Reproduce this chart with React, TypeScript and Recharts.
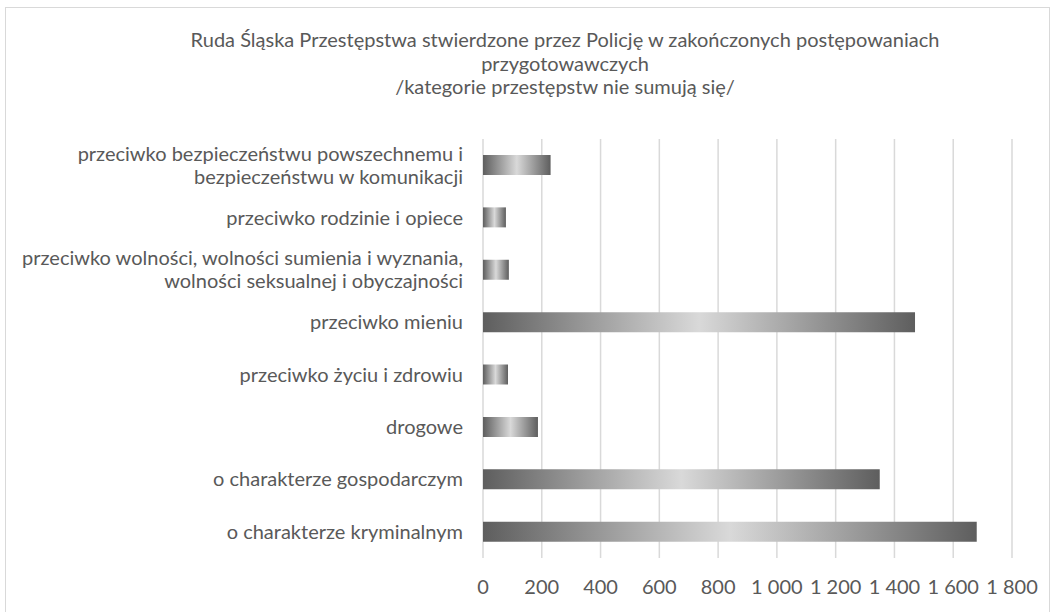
import { Bar, BarChart, CartesianGrid, XAxis, YAxis } from 'recharts';

const categories = [
  'przeciwko bezpieczeństwu powszechnemu i\nbezpieczeństwu w komunikacji',
  'przeciwko rodzinie i opiece',
  'przeciwko wolności, wolności sumienia i wyznania,\nwolności seksualnej i obyczajności',
  'przeciwko mieniu',
  'przeciwko życiu i zdrowiu',
  'drogowe',
  'o charakterze gospodarczym',
  'o charakterze kryminalnym',
];

const counts = [230, 78, 88, 1470, 85, 187, 1350, 1680];

const xTicks = [0, 200, 400, 600, 800, 1000, 1200, 1400, 1600, 1800];

const titleLines = [
  'Ruda Śląska Przestępstwa stwierdzone przez Policję w zakończonych postępowaniach',
  'przygotowawczych',
  '/kategorie przestępstw nie sumują się/',
];

const data = categories.map((name, i) => ({ name, value: counts[i] }));

const FONT = 'Lato, "Open Sans", sans-serif';
const TEXT = '#595959';
const FS = 20;

const fmt = (n: number) =>
  n >= 1000 ? `${Math.floor(n / 1000)} ${String(n % 1000).padStart(3, '0')}` : String(n);

function CategoryTick(props: any) {
  const { x, y, payload } = props;
  const lines = String(payload.value).split('\n');
  const lh = 23;
  return (
    <text x={x} y={y} textAnchor="end" fill={TEXT} fontSize={FS} fontFamily={FONT}>
      {lines.map((line, i) => (
        <tspan key={i} x={x} dy={i === 0 ? -((lines.length - 1) / 2) * lh + 7 : lh}>
          {line}
        </tspan>
      ))}
    </text>
  );
}

export default function App() {
  return (
    <div
      style={{
        position: 'absolute',
        left: 5,
        top: 7,
        width: 1045,
        height: 620,
        border: '1px solid #d9d9d9',
        background: '#fff',
        boxSizing: 'border-box',
      }}
    >
      <div
        style={{
          position: 'absolute',
          left: 0,
          top: 20,
          width: 1118,
          textAlign: 'center',
          fontFamily: FONT,
          fontSize: FS,
          lineHeight: '23.5px',
          color: TEXT,
        }}
      >
        {titleLines.map((t) => (
          <div key={t}>{t}</div>
        ))}
      </div>
      <BarChart
        width={1045}
        height={604}
        data={data}
        layout="vertical"
        margin={{ top: 132, right: 38, bottom: 0, left: 0 }}
        barCategoryGap="63%"
        style={{ position: 'absolute', left: -1, top: -1 }}
      >
        <defs>
          <linearGradient id="barGrad" x1="0" y1="0" x2="1" y2="0">
            <stop offset="0" stopColor="#5e5e5e" />
            <stop offset="0.5" stopColor="#d9d9d9" />
            <stop offset="1" stopColor="#5e5e5e" />
          </linearGradient>
        </defs>
        <CartesianGrid horizontal={false} stroke="#d9d9d9" strokeWidth={1.5} />
        <XAxis
          type="number"
          domain={[0, 1800]}
          ticks={xTicks}
          tickFormatter={fmt}
          axisLine={false}
          tickLine={false}
          tickSize={0}
          tickMargin={22}
          height={53}
          interval={0}
          tick={{ fill: TEXT, fontSize: FS, fontFamily: FONT }}
        />
        <YAxis
          type="category"
          dataKey="name"
          width={478}
          axisLine={false}
          tickLine={false}
          tickSize={0}
          tickMargin={20}
          interval={0}
          tick={<CategoryTick />}
        />
        <Bar dataKey="value" fill="url(#barGrad)" barSize={20} isAnimationActive={false} />
      </BarChart>
    </div>
  );
}
